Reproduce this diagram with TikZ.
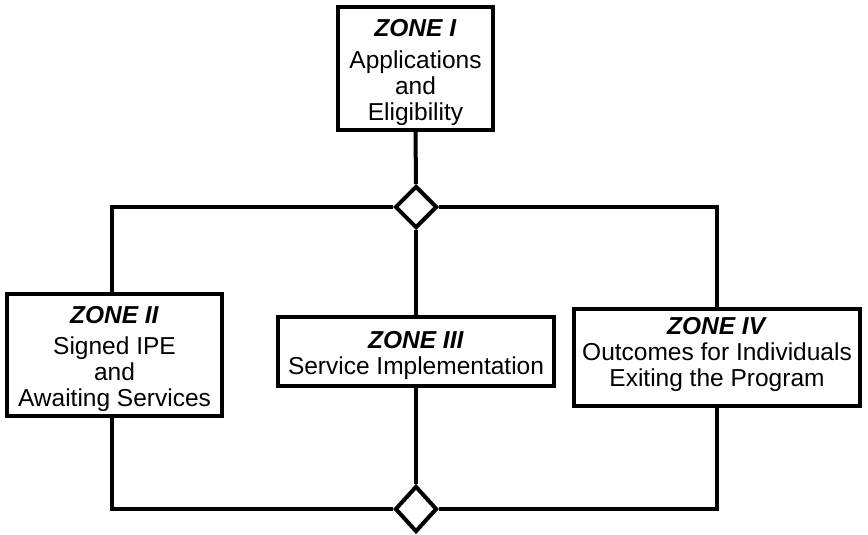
\documentclass[tikz,border=0pt]{standalone}
\usepackage{fontspec}
\setmainfont{Liberation Sans}
\usetikzlibrary{shapes.geometric}
% extra room above the first line / below the last line of a box text
\newcommand{\toproom}[1]{\rule{0pt}{#1}}
\newcommand{\bottomroom}[1]{\rule[-#1]{0pt}{#1}}
\begin{document}
\begin{tikzpicture}[x=1pt,y=-1pt,
  zonebox/.style={draw, line width=4.3pt, fill=white, align=center, inner sep=0pt,
    font=\fontsize{24.5}{26}\selectfont},
  junction/.style={draw, diamond, aspect=1, line width=4pt, fill=white, inner sep=0pt,
    minimum width=42pt, minimum height=42pt},
  link/.style={line width=4pt}]
\useasboundingbox (0,0) rectangle (868,535);

% zone boxes
\node[zonebox, minimum width=155pt, minimum height=123pt] (z1) at (415.5,68.5)
  {\toproom{26pt}\textbf{\textit{ZONE I}}\\[6pt] Applications\\ and\\ Eligibility};
\node[zonebox, minimum width=215pt, minimum height=122pt] (z2) at (114.5,355)
  {\toproom{26pt}\textbf{\textit{ZONE II}}\\[5pt] Signed IPE\\ and\\ Awaiting Services};
\node[zonebox, minimum width=276pt, minimum height=69pt] (z3) at (416,351.5)
  {\toproom{26pt}\textbf{\textit{ZONE III}}\\ Service Implementation};
\node[zonebox, minimum width=286pt, minimum height=97pt] (z4) at (717,357.5)
  {\textbf{\textit{ZONE IV}}\\ Outcomes for Individuals\\ Exiting the Program\bottomroom{11pt}};

% branch and merge junctions
\node[junction] (d1) at (416,207) {};
\node[junction, minimum height=46pt] (d2) at (416,509) {};

% corners of the branch and merge lines
\coordinate (tl) at (112,207);
\coordinate (tr) at (717,207);
\coordinate (bl) at (112,509);
\coordinate (br) at (717,509);

% connectors
\draw[link] (z1.south) -- (d1.north);
\draw[link] (d1.west) -- (tl) -- (tl |- z2.north);
\draw[link] (d1.east) -- (tr) -- (z4.north);
\draw[link] (d1.south) -- (z3.north);
\draw[link] (z2.south -| tl) -- (bl) -- (d2.west);
\draw[link] (z3.south) -- (d2.north);
\draw[link] (z4.south) -- (br) -- (d2.east);
\end{tikzpicture}
\end{document}
